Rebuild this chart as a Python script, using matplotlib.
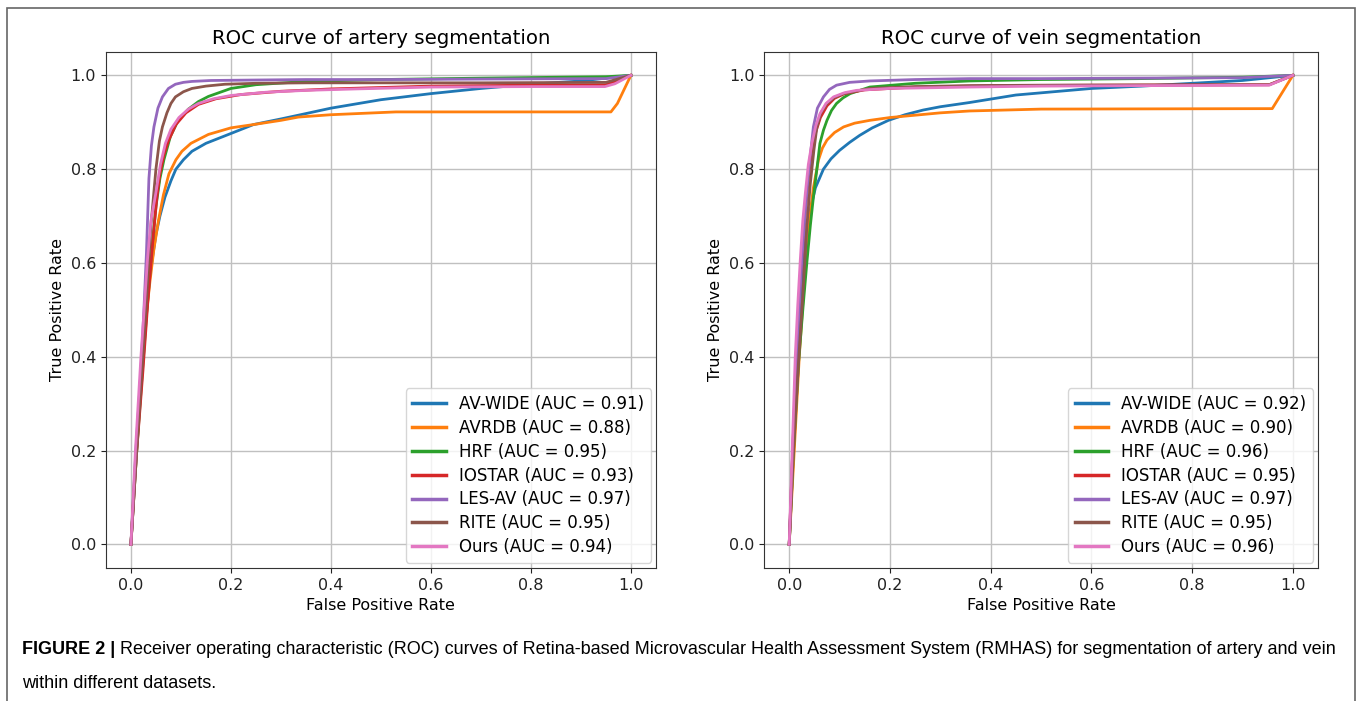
import matplotlib
matplotlib.use('Agg')
import matplotlib.pyplot as plt
from matplotlib.patches import Rectangle


#----Step 0: 数据------------------------------
names   = ['AV-WIDE', 'AVRDB', 'HRF', 'IOSTAR', 'LES-AV', 'RITE', 'Ours']
colors  = ['#1f77b4', '#ff7f0e', '#2ca02c', '#d62728', '#9467bd', '#8c564b', '#e377c2']
auc_artery = [0.91, 0.88, 0.95, 0.93, 0.97, 0.95, 0.94]
auc_vein   = [0.92, 0.90, 0.96, 0.95, 0.97, 0.95, 0.96]

# artery
fpr_a_avwide = [0, 0.01, 0.02, 0.028, 0.036, 0.043, 0.05, 0.058, 0.068, 0.08, 0.09, 0.105, 0.122, 0.15, 0.2, 0.245, 0.3, 0.335, 0.4, 0.5, 0.6, 0.7, 0.8, 0.9, 1.0]
tpr_a_avwide = [0, 0.2, 0.37, 0.48, 0.56, 0.61, 0.66, 0.70, 0.74, 0.775, 0.80, 0.82, 0.838, 0.855, 0.876, 0.895, 0.907, 0.915, 0.93, 0.948, 0.961, 0.972, 0.981, 0.988, 1.0]
fpr_a_avrdb  = [0, 0.01, 0.022, 0.03, 0.038, 0.046, 0.055, 0.065, 0.076, 0.09, 0.102, 0.12, 0.155, 0.2, 0.245, 0.3, 0.335, 0.4, 0.53, 0.96, 0.973, 1.0]
tpr_a_avrdb  = [0, 0.19, 0.37, 0.48, 0.56, 0.63, 0.69, 0.745, 0.79, 0.82, 0.838, 0.855, 0.874, 0.888, 0.895, 0.904, 0.911, 0.916, 0.922, 0.922, 0.94, 1.0]
fpr_a_hrf    = [0, 0.011, 0.023, 0.032, 0.042, 0.05, 0.058, 0.066, 0.079, 0.095, 0.115, 0.135, 0.155, 0.2, 0.25, 0.35, 0.5, 0.7, 0.95, 1.0]
tpr_a_hrf    = [0, 0.19, 0.37, 0.5, 0.63, 0.72, 0.78, 0.82, 0.87, 0.905, 0.928, 0.944, 0.955, 0.972, 0.98, 0.987, 0.991, 0.994, 0.997, 1.0]
fpr_a_iostar = [0, 0.011, 0.024, 0.034, 0.044, 0.052, 0.058, 0.066, 0.075, 0.09, 0.11, 0.135, 0.17, 0.22, 0.3, 0.4, 0.6, 0.8, 0.95, 1.0]
tpr_a_iostar = [0, 0.19, 0.37, 0.52, 0.65, 0.74, 0.79, 0.83, 0.86, 0.895, 0.92, 0.938, 0.95, 0.959, 0.966, 0.971, 0.977, 0.979, 0.98, 1.0]
fpr_a_lesav  = [0, 0.01, 0.02, 0.026, 0.031, 0.036, 0.041, 0.046, 0.054, 0.063, 0.075, 0.089, 0.105, 0.122, 0.16, 0.25, 0.35, 0.5, 0.7, 0.95, 1.0]
tpr_a_lesav  = [0, 0.18, 0.37, 0.5, 0.62, 0.78, 0.85, 0.89, 0.93, 0.954, 0.972, 0.981, 0.985, 0.987, 0.989, 0.99, 0.991, 0.991, 0.992, 0.993, 1.0]
fpr_a_rite   = [0, 0.011, 0.022, 0.03, 0.04, 0.05, 0.057, 0.063, 0.072, 0.08, 0.089, 0.105, 0.122, 0.15, 0.188, 0.25, 0.353, 0.5, 0.7, 0.95, 1.0]
tpr_a_rite   = [0, 0.19, 0.37, 0.5, 0.68, 0.8, 0.86, 0.89, 0.92, 0.94, 0.954, 0.965, 0.972, 0.977, 0.981, 0.983, 0.984, 0.984, 0.984, 0.985, 1.0]
fpr_a_ours   = [0, 0.009, 0.02, 0.027, 0.033, 0.04, 0.05, 0.059, 0.069, 0.08, 0.096, 0.115, 0.135, 0.165, 0.2, 0.27, 0.353, 0.45, 0.6, 0.8, 0.948, 0.968, 1.0]
tpr_a_ours   = [0, 0.2, 0.4, 0.51, 0.606, 0.69, 0.75, 0.81, 0.855, 0.885, 0.91, 0.928, 0.94, 0.95, 0.957, 0.964, 0.968, 0.971, 0.975, 0.976, 0.976, 0.982, 1.0]

# vein
fpr_v_avwide = [0, 0.008, 0.017, 0.028, 0.035, 0.042, 0.052, 0.068, 0.083, 0.1, 0.12, 0.14, 0.165, 0.197, 0.23, 0.266, 0.3, 0.358, 0.45, 0.6, 0.7, 0.8, 0.9, 1.0]
tpr_v_avwide = [0, 0.18, 0.36, 0.606, 0.67, 0.713, 0.76, 0.8, 0.822, 0.84, 0.857, 0.872, 0.888, 0.904, 0.916, 0.926, 0.933, 0.942, 0.958, 0.972, 0.977, 0.983, 0.989, 1.0]
fpr_v_avrdb  = [0, 0.01, 0.02, 0.028, 0.034, 0.04, 0.048, 0.058, 0.066, 0.075, 0.09, 0.108, 0.13, 0.16, 0.2, 0.3, 0.358, 0.5, 0.959, 1.0]
tpr_v_avrdb  = [0, 0.2, 0.4, 0.53, 0.62, 0.69, 0.76, 0.819, 0.845, 0.862, 0.878, 0.89, 0.898, 0.904, 0.91, 0.92, 0.924, 0.928, 0.929, 1.0]
fpr_v_hrf    = [0, 0.008, 0.018, 0.027, 0.035, 0.042, 0.048, 0.055, 0.061, 0.068, 0.075, 0.084, 0.094, 0.107, 0.121, 0.16, 0.25, 0.358, 0.5, 0.7, 0.9, 1.0]
tpr_v_hrf    = [0, 0.19, 0.38, 0.5, 0.6, 0.68, 0.74, 0.8, 0.855, 0.883, 0.904, 0.925, 0.94, 0.952, 0.961, 0.975, 0.983, 0.988, 0.991, 0.993, 0.996, 1.0]
fpr_v_iostar = [0, 0.007, 0.014, 0.02, 0.026, 0.032, 0.038, 0.045, 0.053, 0.062, 0.075, 0.09, 0.11, 0.15, 0.25, 0.4, 0.6, 0.953, 1.0]
tpr_v_iostar = [0, 0.2, 0.4, 0.52, 0.62, 0.71, 0.78, 0.84, 0.88, 0.91, 0.935, 0.951, 0.961, 0.969, 0.975, 0.978, 0.979, 0.98, 1.0]
fpr_v_lesav  = [0, 0.007, 0.015, 0.025, 0.035, 0.042, 0.048, 0.056, 0.068, 0.08, 0.094, 0.12, 0.16, 0.25, 0.358, 0.5, 0.7, 0.9, 1.0]
tpr_v_lesav  = [0, 0.2, 0.4, 0.606, 0.748, 0.83, 0.89, 0.93, 0.954, 0.97, 0.979, 0.985, 0.988, 0.991, 0.993, 0.993, 0.994, 0.995, 1.0]
fpr_v_rite   = [0, 0.008, 0.018, 0.027, 0.035, 0.042, 0.049, 0.055, 0.063, 0.075, 0.09, 0.108, 0.16, 0.25, 0.358, 0.5, 0.953, 1.0]
tpr_v_rite   = [0, 0.19, 0.38, 0.53, 0.677, 0.77, 0.84, 0.89, 0.92, 0.94, 0.953, 0.961, 0.972, 0.976, 0.978, 0.979, 0.98, 1.0]
fpr_v_ours   = [0, 0.006, 0.012, 0.017, 0.022, 0.027, 0.032, 0.038, 0.045, 0.053, 0.061, 0.073, 0.088, 0.11, 0.134, 0.2, 0.358, 0.5, 0.7, 0.953, 1.0]
tpr_v_ours   = [0, 0.2, 0.4, 0.51, 0.606, 0.69, 0.748, 0.81, 0.855, 0.893, 0.918, 0.94, 0.954, 0.963, 0.968, 0.972, 0.975, 0.977, 0.978, 0.979, 1.0]

fpr_artery = [fpr_a_avwide, fpr_a_avrdb, fpr_a_hrf, fpr_a_iostar, fpr_a_lesav, fpr_a_rite, fpr_a_ours]
tpr_artery = [tpr_a_avwide, tpr_a_avrdb, tpr_a_hrf, tpr_a_iostar, tpr_a_lesav, tpr_a_rite, tpr_a_ours]
fpr_vein   = [fpr_v_avwide, fpr_v_avrdb, fpr_v_hrf, fpr_v_iostar, fpr_v_lesav, fpr_v_rite, fpr_v_ours]
tpr_vein   = [tpr_v_avwide, tpr_v_avrdb, tpr_v_hrf, tpr_v_iostar, tpr_v_lesav, tpr_v_rite, tpr_v_ours]

titles = ['ROC curve of artery segmentation', 'ROC curve of vein segmentation']
caption_bold = 'FIGURE 2 |'
caption_1 = ' Receiver operating characteristic (ROC) curves of Retina-based Microvascular Health Assessment System (RMHAS) for segmentation of artery and vein'
caption_2 = 'within different datasets.'
#-------------------------------------------


#----Step 1: 画图---------------------------
fig = plt.figure(figsize=(13.58, 7.01), dpi=100)
ax1 = fig.add_axes([0.078, 0.19, 0.405, 0.736])
ax2 = fig.add_axes([0.5626, 0.19, 0.408, 0.736])

panels = [(ax1, fpr_artery, tpr_artery, auc_artery), (ax2, fpr_vein, tpr_vein, auc_vein)]
for k, (ax, fprs, tprs, aucs) in enumerate(panels):
    for i in range(len(names)):
        ax.plot(fprs[i], tprs[i], color=colors[i], lw=2,
                label='%s (AUC = %.2f)' % (names[i], aucs[i]))
    ax.set_xlim(-0.05, 1.05); ax.set_ylim(-0.05, 1.05)
    ax.set_xticks([0, 0.2, 0.4, 0.6, 0.8, 1.0]); ax.set_yticks([0, 0.2, 0.4, 0.6, 0.8, 1.0])
    ax.tick_params(labelsize=11.5, colors='#222222')
    ax.grid(True, color='#c0c0c0', lw=1)
    ax.set_title(titles[k], fontsize=14.2, pad=6)
    ax.set_xlabel('False Positive Rate', fontsize=11.5)
    ax.set_ylabel('True Positive Rate', fontsize=11.5)
    for s in ax.spines.values():
        s.set_color('#333333')
    leg = ax.legend(loc='lower right', fontsize=12, handlelength=2.0, labelspacing=0.35,
                    borderaxespad=0.3, fancybox=True)
    for h in leg.get_lines():
        h.set_linewidth(2.5)

# 外框和图注
fig.patches.append(Rectangle((7/1358, -0.02), 1348/1358, 0.02 + 1 - 8/701, transform=fig.transFigure,
                             fill=False, edgecolor='#666666', lw=1.2))
cap_font = ['Liberation Sans Narrow', 'Liberation Sans', 'DejaVu Sans']
t0 = fig.text(22/1358, 1 - 650/701, caption_bold, fontsize=13, fontweight='bold',
              family=cap_font, va='center', ha='left')
fig.canvas.draw()
bb = t0.get_window_extent(renderer=fig.canvas.get_renderer())
fig.text(bb.x1 / fig.bbox.width, 1 - 650/701, caption_1, fontsize=13, family=cap_font,
         va='center', ha='left')
fig.text(22/1358, 1 - 683/701, caption_2, fontsize=13, family=cap_font, va='center', ha='left')

plt.savefig('out.png', dpi=100)
#-------------------------------------------
